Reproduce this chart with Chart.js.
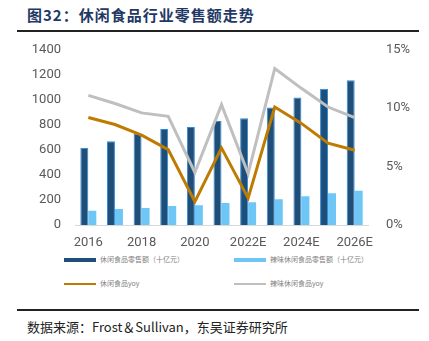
<!DOCTYPE html>
<html lang="zh">
<head>
<meta charset="UTF-8">
<title>休闲食品行业零售额走势</title>
<script src="https://cdn.jsdelivr.net/npm/chart.js"></script>
<style>
  html, body { margin: 0; padding: 0; background: #fff; }
  body { width: 429px; height: 341px; position: relative; overflow: hidden; font-family: "Noto Sans CJK SC", sans-serif; }
  .title { position: absolute; left: 27px; top: 4px; font-size: 15px; font-weight: bold; color: #1F3864; letter-spacing: 1px; }
  .rule { position: absolute; left: 17px; width: 402px; height: 2px; background: #222; }
  .chartbox { position: absolute; left: 0; top: 32px; width: 429px; height: 217px; }
  .legend { position: absolute; font-size: 7px; color: #7f7f7f; }
  .legend span.sw { display: inline-block; width: 32px; vertical-align: middle; margin-right: 4px; }
  .source { position: absolute; left: 27px; top: 317px; font-size: 13px; color: #222; }
</style>
</head>
<body>
<div class="title">图32：休闲食品行业零售额走势</div>
<div class="rule" style="top:30px"></div>
<div class="chartbox"><canvas id="c"></canvas></div>
<div class="legend" style="left:64px; top:254px"><span class="sw" style="height:4px;background:#1F4E79"></span>休闲食品零售额（十亿元）</div>
<div class="legend" style="left:234px; top:254px"><span class="sw" style="height:4px;background:#6DC6F5"></span>辣味休闲食品零售额（十亿元）</div>
<div class="legend" style="left:64px; top:278px"><span class="sw" style="height:2px;background:#BF7B00"></span>休闲食品yoy</div>
<div class="legend" style="left:234px; top:278px"><span class="sw" style="height:2px;background:#BFBFBF"></span>辣味休闲食品yoy</div>
<div class="rule" style="top:309px"></div>
<div class="source">数据来源：Frost＆Sullivan，东吴证券研究所</div>
<script>
const years = ['2016', '2017', '2018', '2019', '2020', '2021', '2022E', '2023E', '2024E', '2025E', '2026E'];
const snackSales = [618, 670, 730, 768, 784, 832, 853, 938, 1018, 1088, 1157];
const spicySales = [114, 128, 136, 152, 157, 176, 181, 205, 229, 253, 274];
const snackYoy = [9.2, 8.6, 7.7, 6.45, 2.0, 6.6, 2.3, 10.1, 8.7, 7.0, 6.4];
const spicyYoy = [11.1, 10.4, 9.6, 9.3, 4.5, 10.3, 4.4, 13.4, 11.7, 10.1, 9.2];

const tickFont = { family: 'Roboto, "Liberation Sans", sans-serif', size: 13 };

new Chart(document.getElementById('c'), {
  data: {
    labels: years,
    datasets: [
      { type: 'line', label: '休闲食品yoy', data: snackYoy, yAxisID: 'y1', borderColor: '#BF7B00', borderWidth: 3, pointRadius: 0, tension: 0, order: 0 },
      { type: 'line', label: '辣味休闲食品yoy', data: spicyYoy, yAxisID: 'y1', borderColor: '#BFBFBF', borderWidth: 3, pointRadius: 0, tension: 0, order: 1 },
      { type: 'bar', label: '休闲食品零售额（十亿元）', data: snackSales, yAxisID: 'y', backgroundColor: '#1F4E79', borderColor: '#2E8BD8', borderWidth: 1, borderSkipped: 'bottom', categoryPercentage: 0.6, barPercentage: 1, order: 2 },
      { type: 'bar', label: '辣味休闲食品零售额（十亿元）', data: spicySales, yAxisID: 'y', backgroundColor: '#6DC6F5', categoryPercentage: 0.6, barPercentage: 1, order: 3 }
    ]
  },
  options: {
    responsive: true,
    maintainAspectRatio: false,
    animation: false,
    layout: { padding: { top: 7, left: 0, right: 0, bottom: 0 } },
    plugins: { legend: { display: false }, tooltip: { enabled: false } },
    scales: {
      x: {
        grid: { display: false, drawTicks: true },
        border: { color: '#D9D9D9' },
        ticks: {
          color: '#595959', font: tickFont, maxRotation: 0, autoSkip: false, padding: 2,
          callback: function (v, i) { return i % 2 === 0 ? years[i] : ''; }
        },
        afterFit: function (s) { s.height = 24; }
      },
      y: {
        position: 'left', min: 0, max: 1400,
        grid: { display: false },
        border: { display: false },
        ticks: { stepSize: 200, color: '#595959', font: tickFont, padding: 6, callback: function (v) { return String(v); } },
        afterFit: function (s) { s.width = 75; }
      },
      y1: {
        position: 'right', min: 0, max: 15,
        grid: { display: false },
        border: { display: false },
        ticks: { stepSize: 5, color: '#595959', font: tickFont, padding: 10, callback: function (v) { return v + '%'; } },
        afterFit: function (s) { s.width = 61; }
      }
    }
  }
});
</script>
</body>
</html>
